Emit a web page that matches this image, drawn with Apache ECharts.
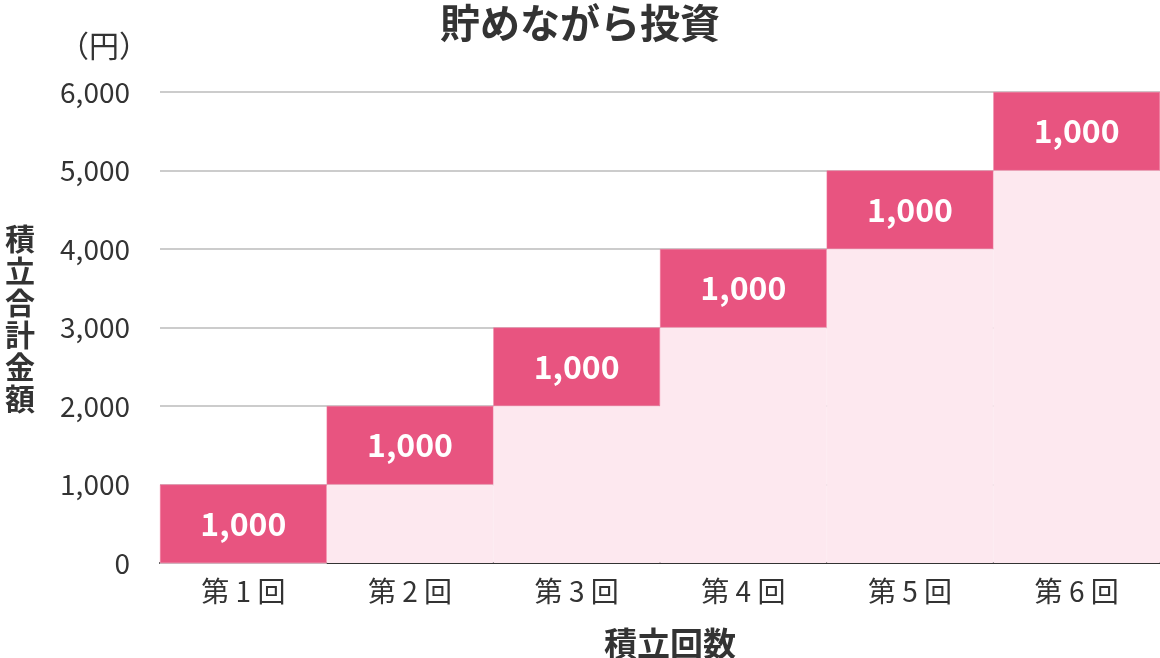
<!DOCTYPE html>
<html><head><meta charset="utf-8">
<script src="https://cdn.jsdelivr.net/npm/echarts@6/dist/echarts.min.js"></script>
<style>html,body{margin:0;padding:0;background:#fff}#c{width:1160px;height:658px}</style>
</head><body><div id="c"></div>
<script>
const categories = ['第 1 回','第 2 回','第 3 回','第 4 回','第 5 回','第 6 回'];
const baseValues = [0, 1000, 2000, 3000, 4000, 5000];
const addValues = [1000, 1000, 1000, 1000, 1000, 1000];
const yTicks = [0, 1000, 2000, 3000, 4000, 5000, 6000];
const FONT = '"Noto Sans CJK JP","Noto Sans",sans-serif';
const chart = echarts.init(document.getElementById('c'));
chart.setOption({
  animation: false,
  textStyle: {fontFamily: FONT},
  title: [
    {text: '貯めながら投資', left: 'center', top: -2, textStyle: {fontSize: 40, fontWeight: 'bold', color: '#333', fontFamily: FONT}},
    {text: '積\n立\n合\n計\n金\n額', left: 0, top: 218, textStyle: {fontSize: 30, fontWeight: 'bold', color: '#333', lineHeight: 32, fontFamily: FONT}},
    {text: '（円）', left: 54, top: 26, textStyle: {fontSize: 30, fontWeight: 'normal', color: '#333', fontFamily: FONT}}
  ],
  grid: {left: 160, right: 0, top: 92, bottom: 95, containLabel: false, outerBoundsMode: 'none'},
  xAxis: {
    type: 'category', data: categories,
    name: '積立回数', nameLocation: 'middle', nameGap: 64,
    nameTextStyle: {fontSize: 33, fontWeight: 'bold', color: '#333', fontFamily: FONT, padding: [0, 0, 0, 20]},
    axisLine: {lineStyle: {color: '#333', width: 2}},
    axisTick: {show: false},
    axisLabel: {fontSize: 28, color: '#333', margin: 14, fontFamily: FONT}
  },
  yAxis: {
    type: 'value', min: yTicks[0], max: yTicks[yTicks.length-1], interval: 1000,
    axisLine: {show: false}, axisTick: {show: false},
    splitLine: {lineStyle: {color: '#cccccc', width: 2}},
    axisLabel: {fontSize: 28, color: '#333', margin: 30, fontFamily: FONT,
      formatter: v => v.toLocaleString('en-US')}
  },
  series: [
    {type: 'bar', stack: 'a', data: baseValues, barCategoryGap: '0%',
     itemStyle: {color: '#FDE8EF', borderColor: '#FDE8EF', borderWidth: 1}},
    {type: 'bar', stack: 'a', data: addValues, barCategoryGap: '0%',
     itemStyle: {color: '#E85480', borderColor: '#F07FA0', borderWidth: 0.5},
     label: {show: true, position: 'inside', color: '#fff', fontSize: 32, fontWeight: 'bold', fontFamily: FONT,
       formatter: p => p.value.toLocaleString('en-US')}}
  ]
});
</script></body></html>
